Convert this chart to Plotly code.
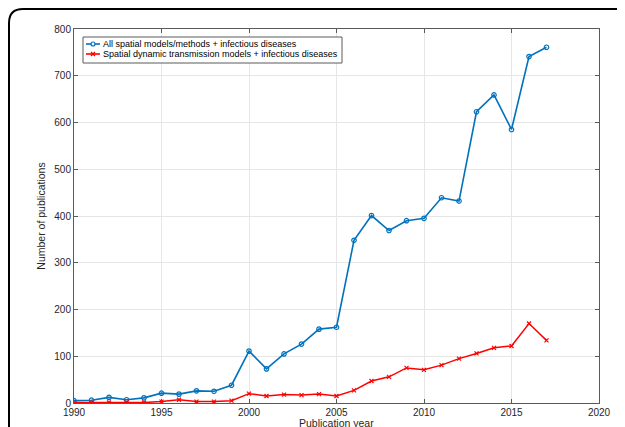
import plotly.graph_objects as go

years = list(range(1990, 2018))
all_spatial = [5, 6, 12, 7, 11, 21, 19, 26, 25, 38, 111, 73, 105, 126, 158, 162,
               348, 401, 369, 390, 395, 439, 432, 623, 659, 585, 741, 761]
dyn_transmission = [1, 1, 1, 2, 1, 3, 7, 3, 3, 5, 20, 15, 18, 17, 19, 15,
                    27, 47, 56, 75, 71, 81, 95, 106, 118, 122, 170, 134]

name_all = "All spatial models/methods + infectious diseases"
name_dyn = "Spatial dynamic transmission models + infectious diseases"
x_title = "Publication year"
y_title = "Number of publications"

BLUE = "#0072BD"
RED = "#FF0000"
FONT = "Liberation Sans, Arial, Helvetica"

fig = go.Figure()
fig.add_trace(go.Scatter(x=years, y=all_spatial, name=name_all, mode="lines+markers",
                         line=dict(color=BLUE, width=1.6),
                         marker=dict(symbol="circle-open", size=4.5, color=BLUE,
                                     line=dict(width=1.2))))
fig.add_trace(go.Scatter(x=years, y=dyn_transmission, name=name_dyn, mode="lines+markers",
                         line=dict(color=RED, width=1.5),
                         marker=dict(symbol="x-thin-open", size=4, color=RED,
                                     line=dict(width=1.2, color=RED))))

axis_common = dict(showline=True, linecolor="#5a5a5a", linewidth=1, mirror="ticks",
                   ticks="inside", ticklen=4, tickcolor="#5a5a5a",
                   showgrid=True, gridcolor="#E6E6E6", gridwidth=1, zeroline=False,
                   automargin=False,
                   tickfont=dict(family=FONT, size=10, color="#262626"))

fig.update_xaxes(range=[1990, 2020], tickvals=[1990, 1995, 2000, 2005, 2010, 2015, 2020],
                 **axis_common)
fig.update_yaxes(range=[0, 800], tickvals=[0, 100, 200, 300, 400, 500, 600, 700, 800],
                 title=dict(text=y_title, standoff=6,
                            font=dict(family=FONT, size=10.5, color="#262626")),
                 **axis_common)

# paper-coordinate helpers (plot area: 525 x 374 px)
PW, PH = 525.0, 374.0

# x-axis title placed just below tick labels (partly cropped like the reference)
fig.add_annotation(x=0.5, y=-19.5 / PH, xref="paper", yref="paper", text=x_title,
                   showarrow=False, xanchor="center", yanchor="middle",
                   font=dict(family=FONT, size=10.5, color="#262626"))

# rounded outer frame
rx, ry = 14 / PW, 14 / PH
fx0, fy0 = -65 / PW, 394 / PH
path = f"M {fx0},-0.3 L {fx0},{fy0 - ry} Q {fx0},{fy0} {fx0 + rx},{fy0} L 1.3,{fy0}"
fig.add_shape(type="path", path=path, xref="paper", yref="paper",
              line=dict(color="black", width=2))

# compact MATLAB-style legend
lx0, lx1 = 9 / PW, 268 / PW
ly0, ly1 = 340 / PH, 366 / PH
fig.add_shape(type="rect", x0=lx0, x1=lx1, y0=ly0, y1=ly1, xref="paper", yref="paper",
              line=dict(color="#5a5a5a", width=1), fillcolor="white", layer="above")
rows = [(name_all, BLUE, "circle", 359 / PH), (name_dyn, RED, "x", 349 / PH)]
sx0, sx1 = 12 / PW, 26 / PW
sxc = (sx0 + sx1) / 2
mrx, mry = 2 / PW, 2 / PH
for label, col, sym, yy in rows:
    fig.add_shape(type="line", x0=sx0, x1=sx1, y0=yy, y1=yy, xref="paper", yref="paper",
                  line=dict(color=col, width=1.6), layer="above")
    if sym == "circle":
        fig.add_shape(type="circle", x0=sxc - mrx, x1=sxc + mrx, y0=yy - mry, y1=yy + mry,
                      xref="paper", yref="paper", line=dict(color=col, width=1.2),
                      fillcolor="white", layer="above")
    else:
        fig.add_shape(type="line", x0=sxc - mrx, x1=sxc + mrx, y0=yy - mry, y1=yy + mry,
                      xref="paper", yref="paper", line=dict(color=col, width=1.2), layer="above")
        fig.add_shape(type="line", x0=sxc - mrx, x1=sxc + mrx, y0=yy + mry, y1=yy - mry,
                      xref="paper", yref="paper", line=dict(color=col, width=1.2), layer="above")
    fig.add_annotation(x=27 / PW, y=yy, xref="paper", yref="paper", text=label,
                       showarrow=False, xanchor="left", yanchor="middle",
                       font=dict(family=FONT, size=9.0, color="black"))

fig.update_layout(
    width=625, height=427,
    margin=dict(l=66, r=34, t=21, b=32),
    plot_bgcolor="white", paper_bgcolor="white",
    showlegend=False,
)

fig.write_html("out.html")
